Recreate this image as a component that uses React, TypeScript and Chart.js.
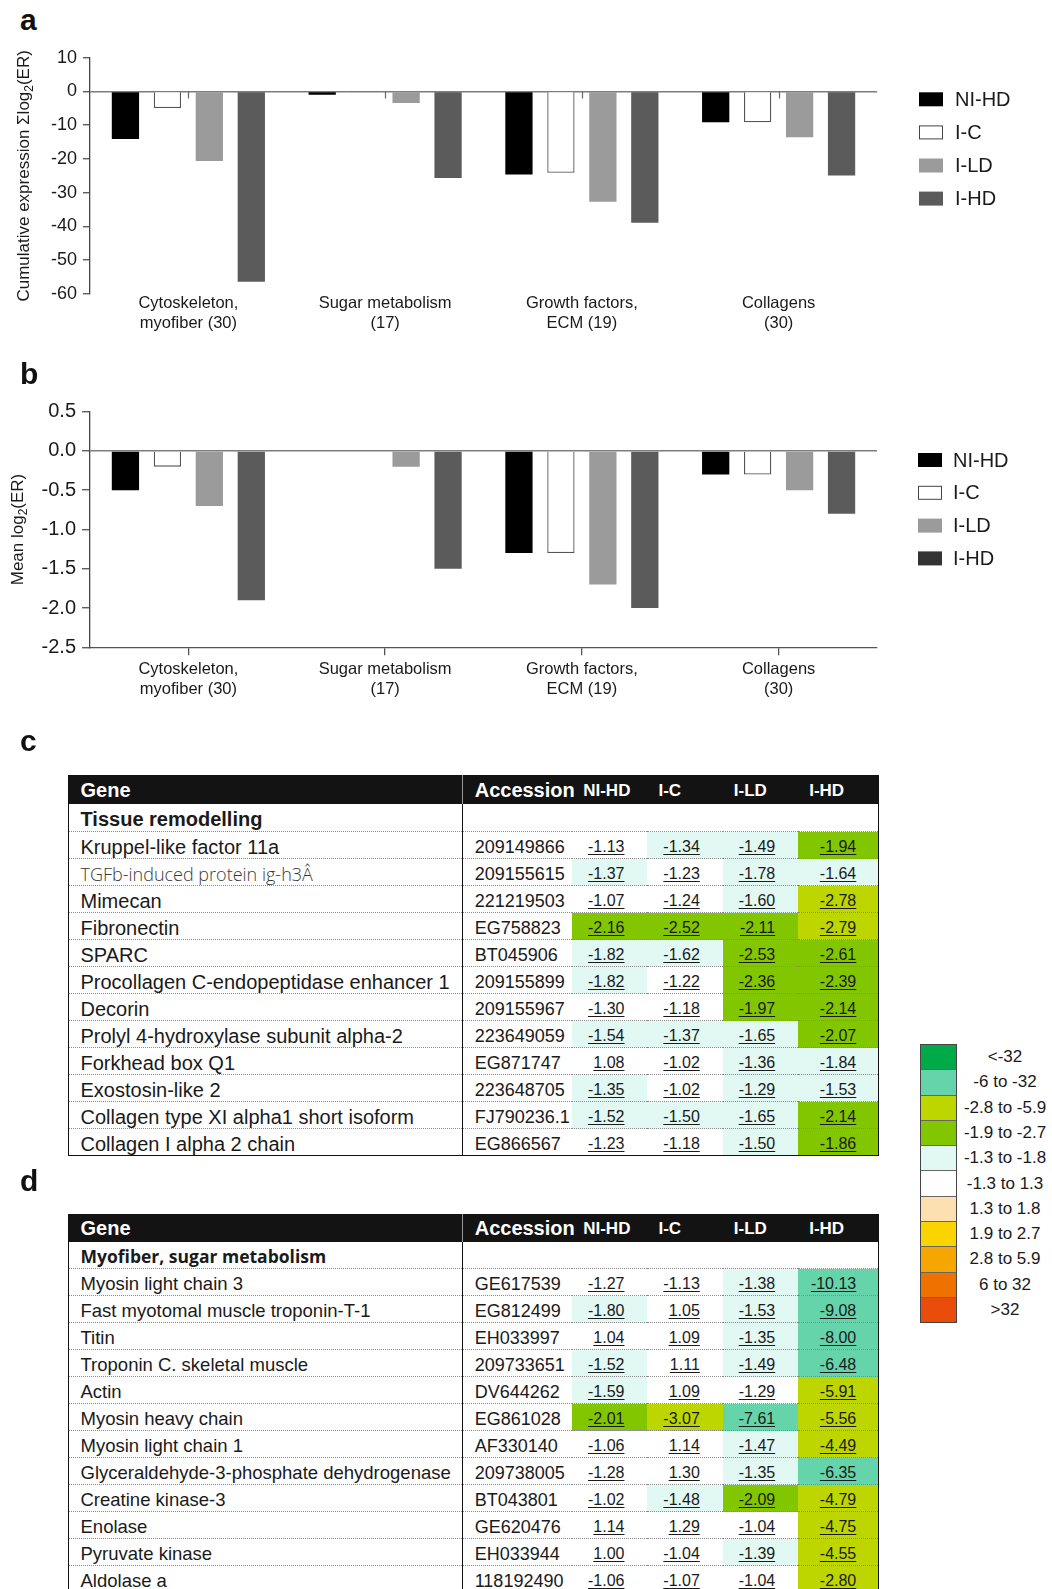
import React, { useEffect, useRef } from 'react';
import { Chart, registerables } from 'chart.js';

Chart.register(...registerables);

const FONT = '"Liberation Sans", Arial, Helvetica, sans-serif';
const MYRIAD = '"Open Sans", "Liberation Sans", Arial, sans-serif';

// ---------- bar chart data ----------
const SERIES = ['NI-HD', 'I-C', 'I-LD', 'I-HD'];
const CATEGORIES = [
  ['Cytoskeleton,', 'myofiber (30)'],
  ['Sugar metabolism', '(17)'],
  ['Growth factors,', 'ECM (19)'],
  ['Collagens', '(30)'],
];
const CUMULATIVE_NI_HD = [-14.1, -1.0, -24.6, -9.1];
const CUMULATIVE_I_C = [-4.9, 0.3, -24.1, -9.1];
const CUMULATIVE_I_LD = [-20.6, -3.4, -32.7, -13.6];
const CUMULATIVE_I_HD = [-56.4, -25.6, -38.9, -24.9];
const CUMULATIVE_TICKS = [10, 0, -10, -20, -30, -40, -50, -60];

const MEAN_NI_HD = [-0.5, 0, -1.3, -0.3];
const MEAN_I_C = [-0.2, 0, -1.3, -0.3];
const MEAN_I_LD = [-0.7, -0.2, -1.7, -0.5];
const MEAN_I_HD = [-1.9, -1.5, -2.0, -0.8];
const MEAN_TICKS = [0.5, 0.0, -0.5, -1.0, -1.5, -2.0, -2.5];

const BAR_COLORS = ['#000000', '#ffffff', '#9b9b9b', '#5b5b5b'];
const LEGEND_B_COLORS = ['#000000', '#ffffff', '#9b9b9b', '#333333'];

// ---------- table data ----------
const TABLE_HEAD = ['Gene', 'Accession'];
const SECTION_C = 'Tissue remodelling';
const GENES_C = [
  'Kruppel-like factor 11a',
  'TGFb-induced protein ig-h3Â',
  'Mimecan',
  'Fibronectin',
  'SPARC',
  'Procollagen C-endopeptidase enhancer 1',
  'Decorin',
  'Prolyl 4-hydroxylase subunit alpha-2',
  'Forkhead box Q1',
  'Exostosin-like 2',
  'Collagen type XI alpha1 short isoform',
  'Collagen I alpha 2 chain',
];
const ACCESSIONS_C = [
  '209149866', '209155615', '221219503', 'EG758823', 'BT045906', '209155899',
  '209155967', '223649059', 'EG871747', '223648705', 'FJ790236.1', 'EG866567',
];
const VALUES_C = [
  ['-1.13', '-1.34', '-1.49', '-1.94'],
  ['-1.37', '-1.23', '-1.78', '-1.64'],
  ['-1.07', '-1.24', '-1.60', '-2.78'],
  ['-2.16', '-2.52', '-2.11', '-2.79'],
  ['-1.82', '-1.62', '-2.53', '-2.61'],
  ['-1.82', '-1.22', '-2.36', '-2.39'],
  ['-1.30', '-1.18', '-1.97', '-2.14'],
  ['-1.54', '-1.37', '-1.65', '-2.07'],
  ['1.08', '-1.02', '-1.36', '-1.84'],
  ['-1.35', '-1.02', '-1.29', '-1.53'],
  ['-1.52', '-1.50', '-1.65', '-2.14'],
  ['-1.23', '-1.18', '-1.50', '-1.86'],
];
// index into KEY_COLORS
const BINS_C = [
  [5, 4, 4, 3],
  [4, 5, 4, 4],
  [5, 5, 4, 2],
  [3, 3, 3, 2],
  [4, 4, 3, 3],
  [4, 5, 3, 3],
  [5, 5, 3, 3],
  [4, 4, 4, 3],
  [5, 5, 4, 4],
  [4, 5, 4, 4],
  [4, 4, 4, 3],
  [5, 5, 4, 3],
];

const SECTION_D = 'Myofiber, sugar metabolism';
const GENES_D = [
  'Myosin light chain 3',
  'Fast myotomal muscle troponin-T-1',
  'Titin',
  'Troponin C. skeletal muscle',
  'Actin',
  'Myosin heavy chain',
  'Myosin light chain 1',
  'Glyceraldehyde-3-phosphate dehydrogenase',
  'Creatine kinase-3',
  'Enolase',
  'Pyruvate kinase',
  'Aldolase a',
];
const ACCESSIONS_D = [
  'GE617539', 'EG812499', 'EH033997', '209733651', 'DV644262', 'EG861028',
  'AF330140', '209738005', 'BT043801', 'GE620476', 'EH033944', '118192490',
];
const VALUES_D = [
  ['-1.27', '-1.13', '-1.38', '-10.13'],
  ['-1.80', '1.05', '-1.53', '-9.08'],
  ['1.04', '1.09', '-1.35', '-8.00'],
  ['-1.52', '1.11', '-1.49', '-6.48'],
  ['-1.59', '1.09', '-1.29', '-5.91'],
  ['-2.01', '-3.07', '-7.61', '-5.56'],
  ['-1.06', '1.14', '-1.47', '-4.49'],
  ['-1.28', '1.30', '-1.35', '-6.35'],
  ['-1.02', '-1.48', '-2.09', '-4.79'],
  ['1.14', '1.29', '-1.04', '-4.75'],
  ['1.00', '-1.04', '-1.39', '-4.55'],
  ['-1.06', '-1.07', '-1.04', '-2.80'],
];
const BINS_D = [
  [5, 5, 4, 1],
  [4, 5, 4, 1],
  [5, 5, 4, 1],
  [4, 5, 4, 1],
  [4, 5, 5, 2],
  [3, 2, 1, 2],
  [5, 5, 4, 2],
  [5, 5, 4, 1],
  [5, 4, 3, 2],
  [5, 5, 5, 2],
  [5, 5, 4, 2],
  [5, 5, 5, 2],
];
const LIGHT_GENES = ['TGFb-induced protein ig-h3Â'];

const KEY_LABELS = [
  '<-32', '-6 to -32', '-2.8 to -5.9', '-1.9 to -2.7', '-1.3 to -1.8', '-1.3 to 1.3',
  '1.3 to 1.8', '1.9 to 2.7', '2.8 to 5.9', '6 to 32', '>32',
];
const KEY_COLORS = [
  '#00aa48', '#65d4ab', '#bed600', '#82c600', '#e2f8f3', '#ffffff',
  '#fde0b1', '#f9d400', '#f6a600', '#ef7200', '#e94c0b',
];

// ---------- chart plugin ----------
const extrasPlugin = {
  id: 'extras',
  afterDraw(chart: any, _args: any, opts: any) {
    const { ctx, chartArea, scales } = chart;
    ctx.save();
    if (opts.zeroTicks) {
      const y0 = scales.y.getPixelForValue(0);
      ctx.strokeStyle = '#666';
      ctx.lineWidth = 1.2;
      scales.x.ticks.forEach((_t: any, i: number) => {
        const x = Math.round(scales.x.getPixelForTick(i)) + 0.5;
        ctx.beginPath();
        ctx.moveTo(x, y0);
        ctx.lineTo(x, y0 + 7);
        ctx.stroke();
      });
    }
    // legend
    const lg = opts.legend;
    chart.data.datasets.forEach((ds: any, i: number) => {
      const cy = lg.top + i * lg.step;
      ctx.fillStyle = lg.colors[i];
      ctx.fillRect(lg.x, cy - lg.h / 2, lg.w, lg.h);
      if (ds.borderWidth) {
        ctx.strokeStyle = '#444';
        ctx.lineWidth = 1;
        ctx.strokeRect(lg.x + 0.5, cy - lg.h / 2 + 0.5, lg.w - 1, lg.h - 1);
      }
      ctx.fillStyle = '#1a1a1a';
      ctx.font = `${lg.size}px ${FONT}`;
      ctx.textBaseline = 'middle';
      ctx.textAlign = 'left';
      ctx.fillText(ds.label, lg.textX, cy + 1);
    });
    ctx.restore();

    // y title with subscript
    const t = opts.yTitle;
    ctx.save();
    ctx.translate(t.x, (chartArea.top + chartArea.bottom) / 2);
    ctx.rotate(-Math.PI / 2);
    ctx.fillStyle = '#1a1a1a';
    const mainFont = `${t.size}px ${FONT}`;
    const subFont = `${Math.round(t.size * 0.68)}px ${FONT}`;
    ctx.font = mainFont;
    const w1 = ctx.measureText(t.before).width;
    const w3 = ctx.measureText(t.after).width;
    ctx.font = subFont;
    const w2 = ctx.measureText(t.sub).width;
    let x = -(w1 + w2 + w3) / 2;
    const base = t.size * 0.36;
    ctx.textBaseline = 'alphabetic';
    ctx.textAlign = 'left';
    ctx.font = mainFont;
    ctx.fillText(t.before, x, base);
    x += w1;
    ctx.font = subFont;
    ctx.fillText(t.sub, x, base + t.size * 0.2);
    x += w2;
    ctx.font = mainFont;
    ctx.fillText(t.after, x, base);
    ctx.restore();
  },
};

function buildConfig(values: number[][], cfg: any): any {
  const ticksAsc = [...cfg.ticks].sort((a: number, b: number) => a - b);
  return {
    type: 'bar',
    data: {
      labels: CATEGORIES,
      datasets: SERIES.map((name, i) => ({
        label: name,
        data: values[i],
        backgroundColor: BAR_COLORS[i],
        borderColor: '#555',
        borderWidth: i === 1 ? 1.3 : 0,
        categoryPercentage: 0.853,
        barPercentage: 0.65,
      })),
    },
    options: {
      responsive: false,
      animation: false,
      events: [],
      layout: { padding: { top: cfg.padTop, right: cfg.padRight, bottom: 0, left: 0 } },
      plugins: {
        legend: { display: false },
        tooltip: { enabled: false },
        extras: { zeroTicks: cfg.zeroTicks, legend: cfg.legend, yTitle: cfg.yTitle },
      },
      scales: {
        x: {
          type: 'category',
          border: { display: cfg.xAxisLine, color: '#555', width: 1.3 },
          grid: {
            display: cfg.xAxisLine,
            drawOnChartArea: false,
            drawTicks: cfg.xAxisLine,
            tickLength: 8,
            offset: false,
            color: '#555',
            tickColor: '#555',
            lineWidth: 1.3,
          },
          ticks: {
            font: { size: 16.5, family: FONT, lineHeight: 1.17 },
            color: '#1a1a1a',
            padding: cfg.xPad,
            maxRotation: 0,
            minRotation: 0,
            autoSkip: false,
          },
          afterFit: (s: any) => {
            s.height = cfg.xHeight;
          },
        },
        y: {
          type: 'linear',
          min: ticksAsc[0],
          max: ticksAsc[ticksAsc.length - 1],
          afterBuildTicks: (s: any) => {
            s.ticks = ticksAsc.map((v: number) => ({ value: v }));
          },
          ticks: {
            font: { size: cfg.tickFont, family: FONT },
            color: '#1a1a1a',
            padding: cfg.tickPad,
            callback: (v: any) => cfg.fmt(Number(v)),
          },
          grid: {
            color: (c: any) => (c.tick && c.tick.value === 0 ? '#7d7d7d' : 'rgba(0,0,0,0)'),
            lineWidth: 1.5,
            drawTicks: true,
            tickLength: cfg.tickLen,
            tickColor: '#444',
            tickWidth: 1.2,
          },
          border: { display: true, color: '#444', width: 1.3 },
          afterFit: (s: any) => {
            s.width = 90;
          },
        },
      },
    },
    plugins: [extrasPlugin],
  };
}

function BarPanel({ top, height, values, cfg }: any) {
  const ref = useRef<HTMLCanvasElement>(null);
  useEffect(() => {
    const chart = new Chart(ref.current as HTMLCanvasElement, buildConfig(values, cfg));
    return () => chart.destroy();
  }, []);
  return (
    <canvas
      ref={ref}
      width={1052}
      height={height}
      style={{ position: 'absolute', left: 0, top, width: 1052, height }}
    />
  );
}

const CFG_A = {
  ticks: CUMULATIVE_TICKS,
  fmt: (v: number) => String(v),
  tickFont: 18,
  tickPad: 6,
  tickLen: 7,
  padTop: 17.7,
  padRight: 175,
  xHeight: 46,
  xAxisLine: false,
  xPad: 0,
  zeroTicks: true,
  yTitle: { x: 23, before: 'Cumulative expression Σlog', sub: '2', after: '(ER)', size: 17 },
  legend: { x: 919, textX: 955, top: 59.3, step: 33.1, w: 24, h: 14, size: 20, colors: BAR_COLORS },
};

const CFG_B = {
  ticks: MEAN_TICKS,
  fmt: (v: number) => v.toFixed(1),
  tickFont: 20,
  tickPad: 6,
  tickLen: 8,
  padTop: 31.7,
  padRight: 175,
  xHeight: 52.7,
  xAxisLine: true,
  xPad: 5,
  zeroTicks: false,
  yTitle: { x: 17, before: 'Mean log', sub: '2', after: '(ER)', size: 17 },
  legend: { x: 918, textX: 953, top: 80, step: 32.8, w: 24, h: 14, size: 20, colors: LEGEND_B_COLORS },
};

// ---------- tables ----------
const COL_W = [394.2, 110, 75.3, 75.3, 75.4, 80.6];

function GeneTable({ top, headerH, sectionH, section, sectionStyle, genes, geneSize, accessions, values, bins }: any) {
  const dotted = '1px dotted #8a8a8a';
  return (
    <table
      style={{
        position: 'absolute',
        left: 67.5,
        top,
        width: 811,
        borderCollapse: 'collapse',
        tableLayout: 'fixed',
        border: '1.5px solid #111',
        fontFamily: FONT,
        color: '#1a1a1a',
      }}
    >
      <colgroup>
        {COL_W.map((w, i) => (
          <col key={i} style={{ width: w }} />
        ))}
      </colgroup>
      <thead>
        <tr style={{ height: headerH, background: '#131313', color: '#fff' }}>
          <th style={{ textAlign: 'left', padding: '0 0 0 12px', fontSize: 20, borderRight: '1.5px solid #9a9a9a', lineHeight: '22px' }}>
            {TABLE_HEAD[0]}
          </th>
          <th style={{ textAlign: 'left', padding: '0 0 0 12px', fontSize: 20, whiteSpace: 'nowrap', overflow: 'visible', lineHeight: '22px' }}>
            {TABLE_HEAD[1]}
          </th>
          {SERIES.map((s) => (
            <th key={s} style={{ textAlign: 'left', padding: '2px 0 0 11px', fontSize: 17, whiteSpace: 'nowrap', lineHeight: '20px' }}>
              {s}
            </th>
          ))}
        </tr>
      </thead>
      <tbody>
        <tr style={{ height: sectionH }}>
          <td style={{ padding: '3px 0 0 12px', fontWeight: 700, borderRight: '1.5px solid #111', whiteSpace: 'nowrap', lineHeight: '22px', ...sectionStyle }}>
            {section}
          </td>
          <td colSpan={5} style={{ padding: 0 }} />
        </tr>
        {genes.map((g: string, r: number) => {
          const light = LIGHT_GENES.includes(g);
          return (
            <tr key={g} style={{ height: 27 }}>
              <td
                style={{
                  padding: '3px 0 0 12px',
                  fontSize: light ? 18 : geneSize,
                  fontFamily: light ? MYRIAD : FONT,
                  fontWeight: light ? 300 : 400,
                  color: light ? '#3a3a3a' : '#1a1a1a',
                  borderTop: dotted,
                  borderRight: '1.5px solid #111',
                  whiteSpace: 'nowrap',
                  overflow: 'hidden',
                  lineHeight: '22px',
                }}
              >
                {g}
              </td>
              <td style={{ padding: '3px 0 0 12px', fontSize: 18, borderTop: dotted, whiteSpace: 'nowrap', lineHeight: '22px' }}>
                {accessions[r]}
              </td>
              {values[r].map((v: string, c: number) => (
                <td
                  key={c}
                  style={{
                    padding: c === 3 ? '4px 22px 0 0' : '4px 23px 0 0',
                    textAlign: 'right',
                    fontSize: 16,
                    background: KEY_COLORS[bins[r][c]],
                    borderTop: dotted,
                    whiteSpace: 'nowrap',
                    lineHeight: '20px',
                  }}
                >
                  <span style={{ textDecoration: 'underline', textUnderlineOffset: '2px' }}>{v}</span>
                </td>
              ))}
            </tr>
          );
        })}
      </tbody>
    </table>
  );
}

function ColorKey() {
  const boxH = 25.3;
  return (
    <div style={{ position: 'absolute', left: 920, top: 1044, fontFamily: FONT }}>
      <div style={{ position: 'absolute', left: 0, top: 0, width: 37, border: '1px solid #444', boxSizing: 'border-box' }}>
        {KEY_COLORS.map((c, i) => (
          <div
            key={i}
            style={{
              height: i === 0 ? boxH - 1 : boxH,
              background: c,
              borderTop: i === 0 ? 'none' : '1px solid #666',
              boxSizing: 'border-box',
            }}
          />
        ))}
      </div>
      {KEY_LABELS.map((l, i) => (
        <div
          key={l}
          style={{
            position: 'absolute',
            left: 35,
            width: 100,
            top: i * boxH,
            height: boxH,
            lineHeight: boxH + 'px',
            textAlign: 'center',
            fontSize: 17,
            color: '#1a1a1a',
            whiteSpace: 'nowrap',
          }}
        >
          {l}
        </div>
      ))}
    </div>
  );
}

function PanelLetter({ text, top }: any) {
  return (
    <div
      style={{
        position: 'absolute',
        left: 20,
        top,
        fontFamily: FONT,
        fontWeight: 700,
        fontSize: 30,
        lineHeight: '30px',
        color: '#111',
      }}
    >
      {text}
    </div>
  );
}

export default function App() {
  return (
    <div
      style={{
        position: 'absolute',
        left: 0,
        top: 0,
        width: 1052,
        height: 1589,
        overflow: 'hidden',
        background: '#fff',
      }}
    >
      <BarPanel
        top={40}
        height={300}
        values={[CUMULATIVE_NI_HD, CUMULATIVE_I_C, CUMULATIVE_I_LD, CUMULATIVE_I_HD]}
        cfg={CFG_A}
      />
      <BarPanel top={380} height={320} values={[MEAN_NI_HD, MEAN_I_C, MEAN_I_LD, MEAN_I_HD]} cfg={CFG_B} />
      <PanelLetter text="a" top={5} />
      <PanelLetter text="b" top={359} />
      <PanelLetter text="c" top={726} />
      <PanelLetter text="d" top={1166} />
      <GeneTable
        top={775}
        headerH={28}
        sectionH={28}
        section={SECTION_C}
        sectionStyle={{ fontSize: 20, fontFamily: FONT }}
        genes={GENES_C}
        geneSize={20}
        accessions={ACCESSIONS_C}
        values={VALUES_C}
        bins={BINS_C}
      />
      <GeneTable
        top={1214}
        headerH={27}
        sectionH={27}
        section={SECTION_D}
        sectionStyle={{ fontSize: 17.5, fontFamily: MYRIAD }}
        genes={GENES_D}
        geneSize={18.5}
        accessions={ACCESSIONS_D}
        values={VALUES_D}
        bins={BINS_D}
      />
      <ColorKey />
    </div>
  );
}
